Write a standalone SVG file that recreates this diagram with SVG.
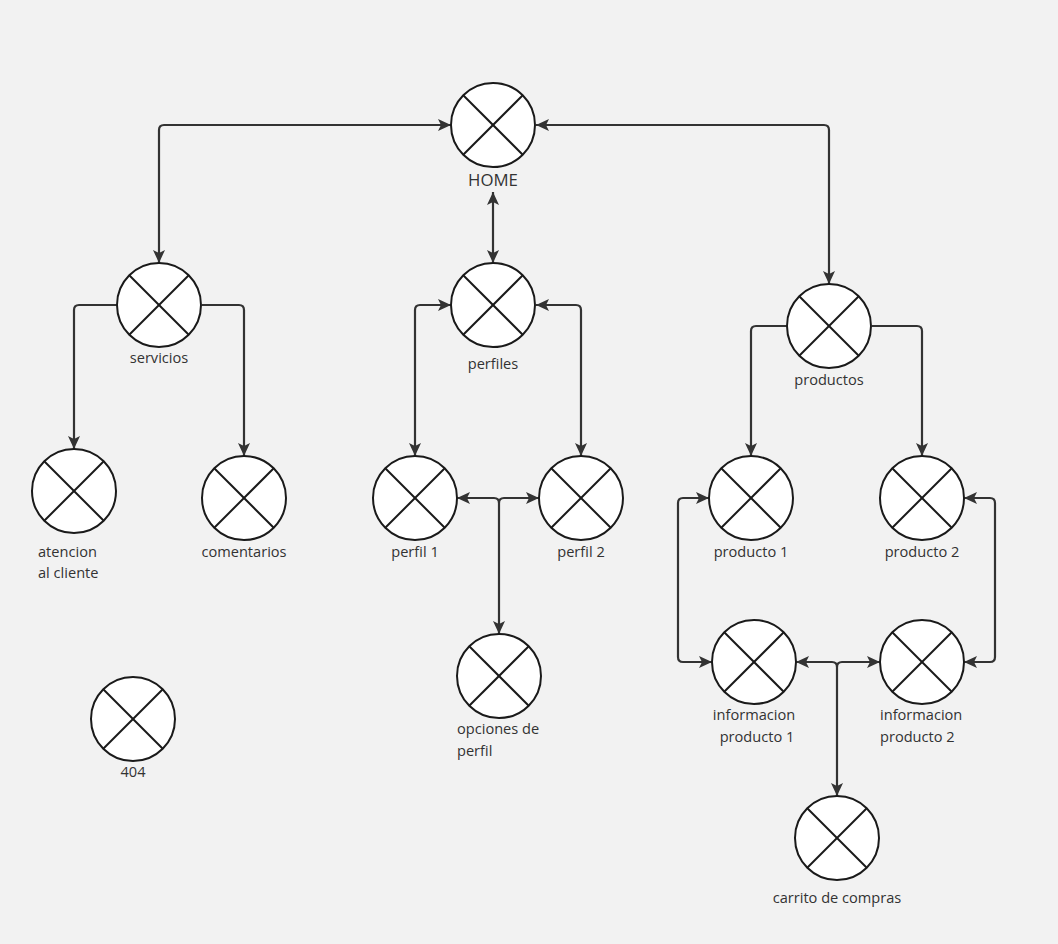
<svg xmlns="http://www.w3.org/2000/svg" width="1058" height="944" viewBox="0 0 1058 944">
<style>
.xc{fill:#fff;stroke:#1a1a1a;stroke-width:2}
.xl{stroke:#1a1a1a;stroke-width:2}
text{font-family:"Open Sans","Noto Sans",sans-serif;font-size:14.6px;fill:#333}
.c path{fill:none;stroke:#333;stroke-width:2.2}
.both{marker-start:url(#ah);marker-end:url(#ah)}
.end{marker-end:url(#ah)}
</style>
<defs>
<marker id="ah" markerUnits="userSpaceOnUse" viewBox="0 0 14 14" refX="13" refY="7" markerWidth="14" markerHeight="14" orient="auto-start-reverse">
<path d="M0,1 L13,7 L0,13 L3,7 Z" fill="#333"/>
</marker>
<g id="x"><circle class="xc" r="42" fill="#fff" stroke="#1a1a1a" stroke-width="2"/><line class="xl" x1="-30" y1="-30" x2="30" y2="30" stroke="#1a1a1a" stroke-width="2"/><line class="xl" x1="30" y1="-30" x2="-30" y2="30" stroke="#1a1a1a" stroke-width="2"/></g>
</defs>
<rect width="1058" height="944" fill="#f2f2f2"/>
<g id="connectors" class="c">
<path class="both" d="M159,263 V130 Q159,125 164,125 H451"/>
<path class="both" d="M536,125 H824 Q829,125 829,130 V284"/>
<path class="both" d="M493,192 V263"/>
<path class="both" d="M451,305 H420 Q415,305 415,310 V456"/>
<path class="both" d="M536,305 H576 Q581,305 581,310 V456"/>
<path class="end" d="M117,305 H79 Q74,305 74,310 V449"/>
<path class="end" d="M202,305 H239 Q244,305 244,310 V456"/>
<path class="end" d="M787,326 H756 Q751,326 751,331 V456"/>
<path class="end" d="M872,326 H917 Q922,326 922,331 V456"/>
<path class="both" d="M499,634 V503 Q499,498 494,498 H457"/>
<path class="end" d="M499,503 Q499,498 504,498 H539"/>
<path class="both" d="M709,498 H683 Q678,498 678,503 V657 Q678,662 683,662 H712"/>
<path class="both" d="M964,498 H990 Q995,498 995,503 V657 Q995,662 990,662 H964"/>
<path class="both" d="M837,796 V667 Q837,662 832,662 H796"/>
<path class="end" d="M837,667 Q837,662 842,662 H880"/>
</g>
<g id="home"><use href="#x" x="493" y="125"/><text x="493" y="186" text-anchor="middle" style="font-size:16.8px">HOME</text></g>
<g id="servicios"><use href="#x" x="159" y="305"/><text x="159" y="363" text-anchor="middle">servicios</text></g>
<g id="perfiles"><use href="#x" x="493" y="305"/><text x="493" y="369" text-anchor="middle">perfiles</text></g>
<g id="productos"><use href="#x" x="829" y="326"/><text x="829" y="385" text-anchor="middle">productos</text></g>
<g id="atencion"><use href="#x" x="74" y="491"/><text x="38" y="557">atencion</text><text x="38" y="578">al cliente</text></g>
<g id="comentarios"><use href="#x" x="244" y="498"/><text x="244" y="557" text-anchor="middle">comentarios</text></g>
<g id="perfil1"><use href="#x" x="415" y="498"/><text x="415" y="557" text-anchor="middle">perfil 1</text></g>
<g id="perfil2"><use href="#x" x="581" y="498"/><text x="581" y="557" text-anchor="middle">perfil 2</text></g>
<g id="opciones"><use href="#x" x="499" y="676"/><text x="457" y="734">opciones de</text><text x="457" y="756">perfil</text></g>
<g id="producto1"><use href="#x" x="751" y="498"/><text x="751" y="557" text-anchor="middle">producto 1</text></g>
<g id="producto2"><use href="#x" x="922" y="498"/><text x="922" y="557" text-anchor="middle">producto 2</text></g>
<g id="info1"><use href="#x" x="754" y="662"/><text x="754" y="720" text-anchor="middle">informacion</text><text x="757" y="742" text-anchor="middle">producto 1</text></g>
<g id="info2"><use href="#x" x="922" y="662"/><text x="880" y="720">informacion</text><text x="880" y="742">producto 2</text></g>
<g id="carrito"><use href="#x" x="837" y="838"/><text x="837" y="903" text-anchor="middle">carrito de compras</text></g>
<g id="n404"><use href="#x" x="133" y="719"/><text x="133" y="777" text-anchor="middle">404</text></g>
</svg>
